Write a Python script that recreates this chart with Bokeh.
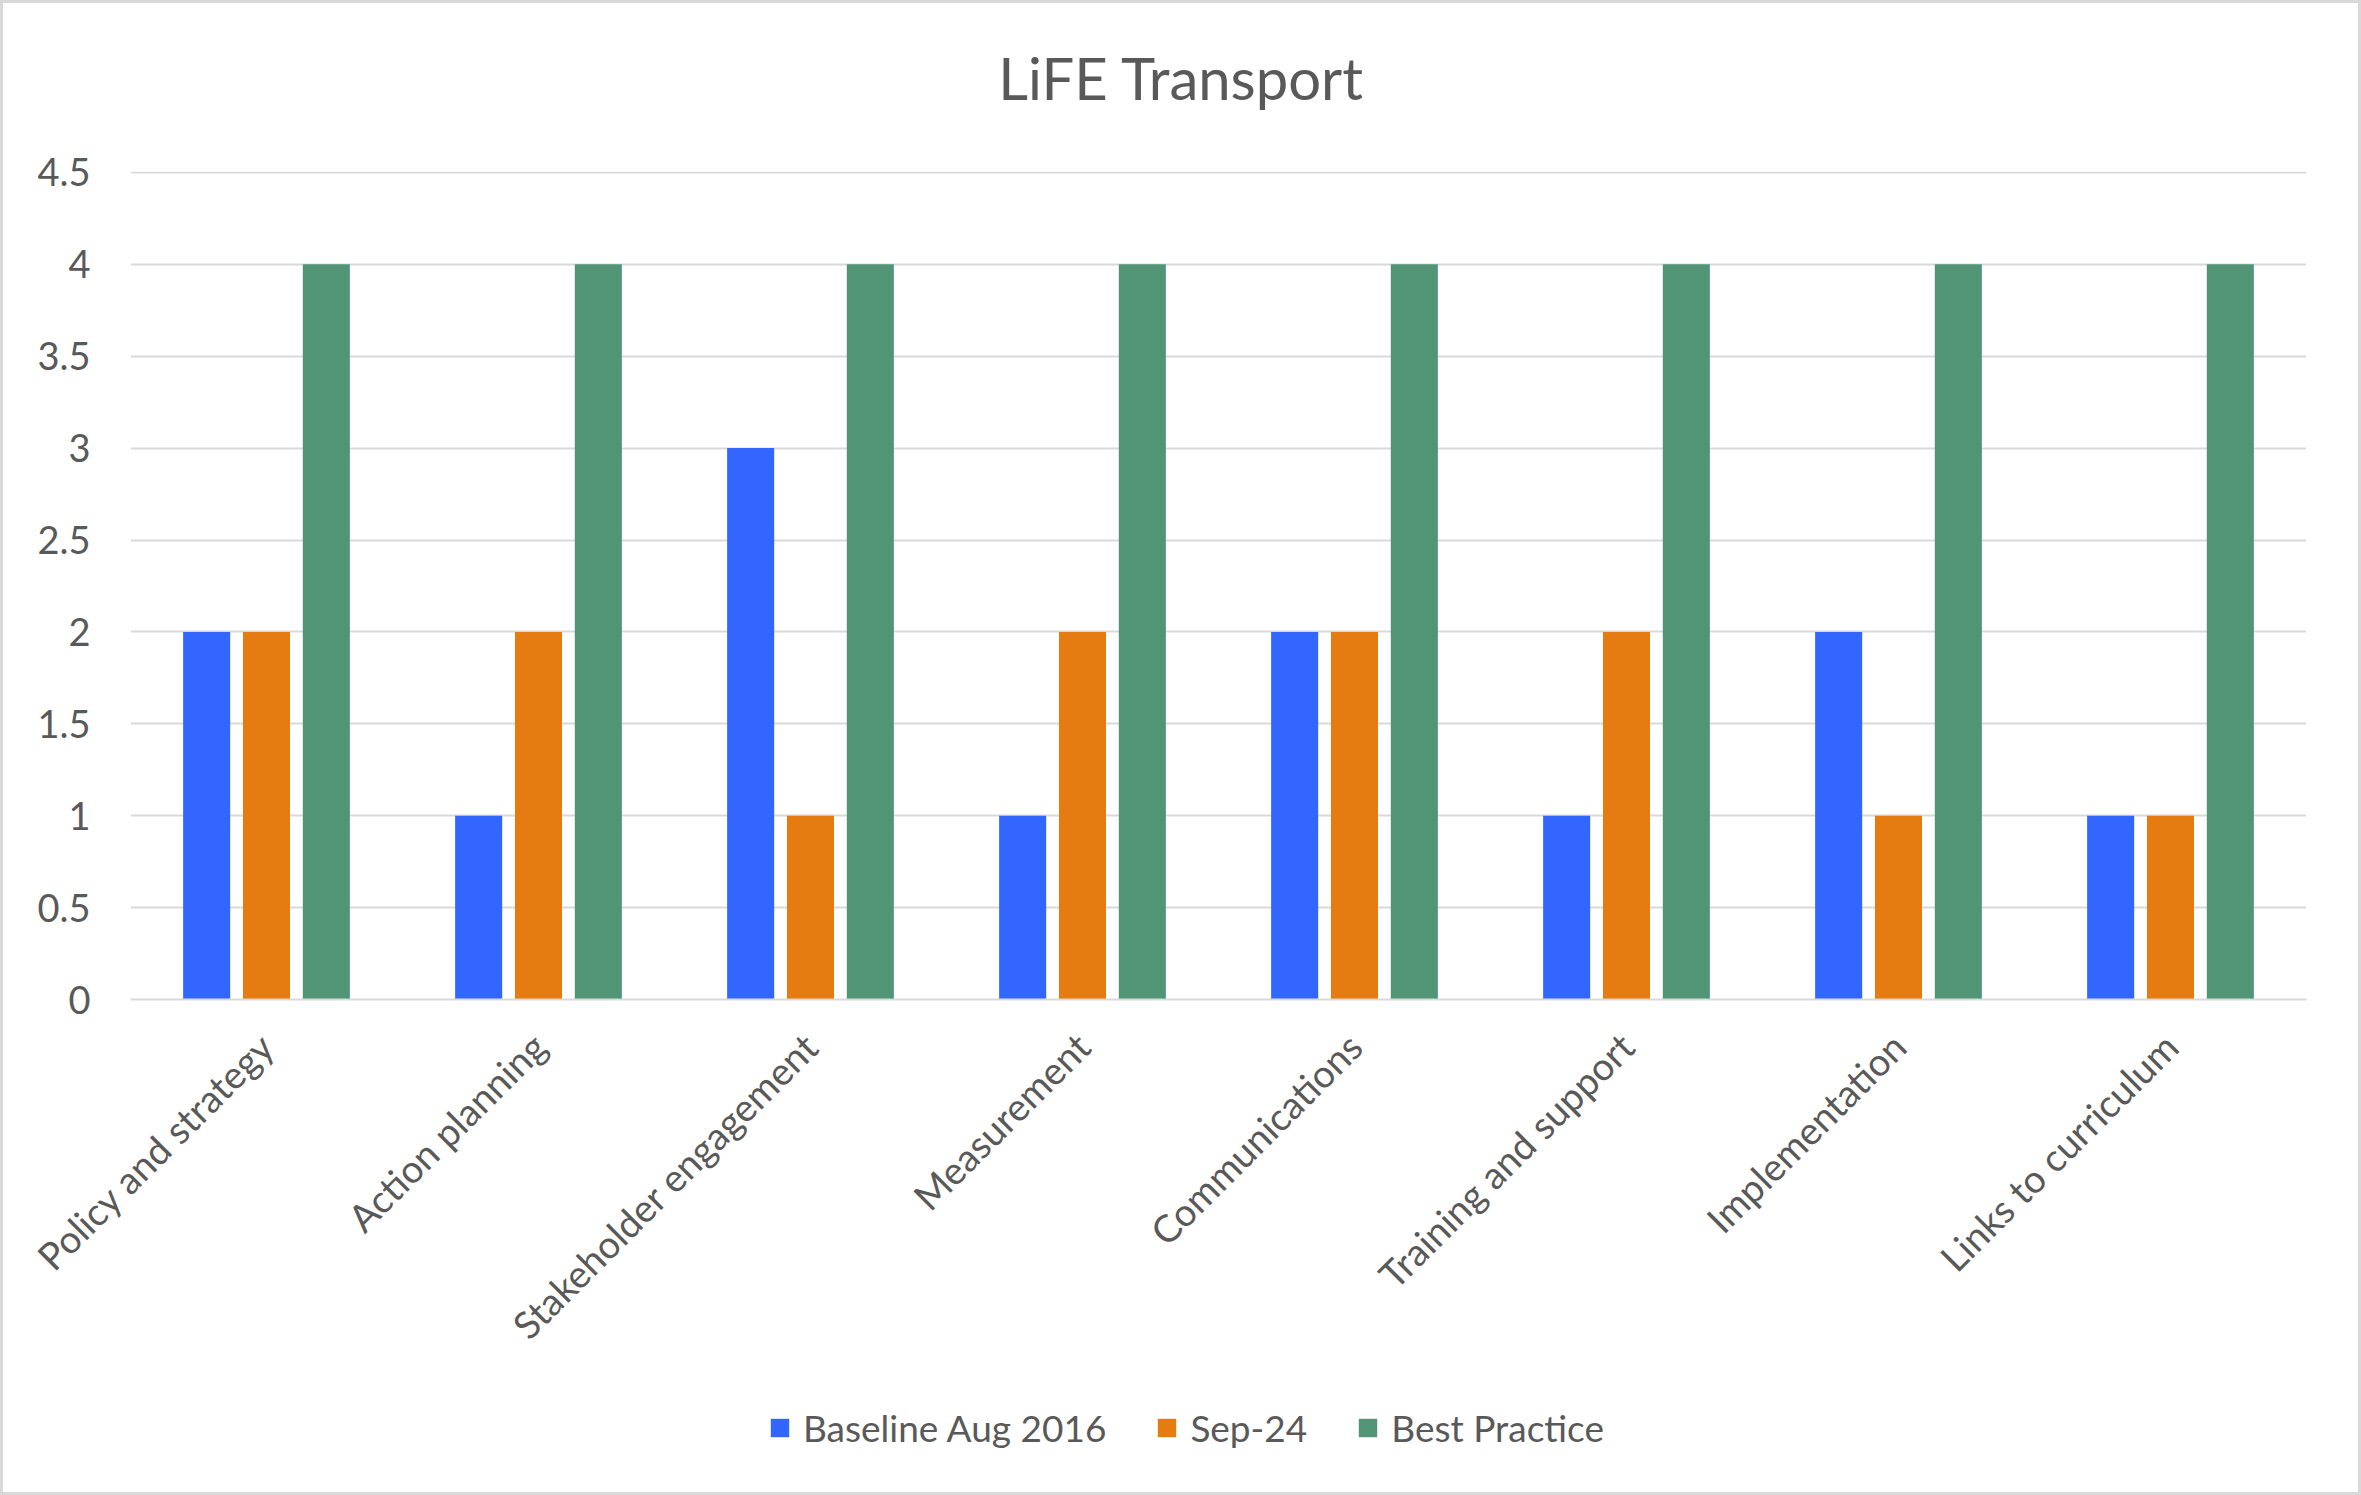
import math
from bokeh.plotting import figure
from bokeh.models import ColumnDataSource, FactorRange, Legend, LegendItem, FixedTicker, Range1d, Label
from bokeh.transform import dodge
from bokeh.layouts import column
from bokeh.embed import file_html
from bokeh.resources import INLINE

# ---- data ----
categories = ["Policy and strategy", "Action planning", "Stakeholder engagement", "Measurement",
              "Communications", "Training and support", "Implementation", "Links to curriculum"]
baseline_aug_2016 = [2, 1, 3, 1, 2, 1, 2, 1]
sep_24 = [2, 2, 1, 2, 2, 2, 1, 1]
best_practice = [4, 4, 4, 4, 4, 4, 4, 4]
series_names = ["Baseline Aug 2016", "Sep-24", "Best Practice"]
y_ticks = [0, 0.5, 1, 1.5, 2, 2.5, 3, 3.5, 4, 4.5]
y_tick_labels = ["0", "0.5", "1", "1.5", "2", "2.5", "3", "3.5", "4", "4.5"]
title_text = "LiFE Transport"

# ---- style ----
FONT = "Lato"
TXT = "#595959"
GRID = "#d9d9d9"
colors = ["#3366FF", "#E57C11", "#519576"]
LBL = "38px"

source = ColumnDataSource(dict(cat=categories, s0=baseline_aug_2016, s1=sep_24, s2=best_practice))

W = 2355
H0 = 130
H1 = 1250
H2 = 109


def strip(h):
    f = figure(width=W, height=h, output_backend="svg", toolbar_location=None,
               x_range=Range1d(0, 1), y_range=Range1d(0, 1),
               min_border=0, min_border_top=0, min_border_bottom=0,
               x_axis_type=None, y_axis_type=None)
    f.outline_line_color = None
    f.xgrid.visible = False
    f.ygrid.visible = False
    f.title.visible = False
    f.background_fill_color = "white"
    f.border_fill_color = "white"
    return f


# ---- title strip ----
p0 = strip(H0)
p0.add_layout(Label(x=1051, y=0.43, x_units="screen", y_units="data", text=title_text,
                    text_align="center", text_baseline="middle",
                    text_font=FONT, text_font_size="58px", text_color=TXT))

# ---- main chart ----
p = figure(width=W, height=H1, x_range=FactorRange(factors=categories), y_range=Range1d(0, 4.505),
           output_backend="svg", toolbar_location=None,
           min_border_left=127, min_border_right=52, min_border_top=168 - H0, min_border_bottom=384)
p.outline_line_color = None
p.background_fill_color = "white"
p.border_fill_color = "white"

offsets = [-0.22, 0.0, 0.22]
for i, col in enumerate(colors):
    p.vbar(x=dodge("cat", offsets[i], range=p.x_range), top="s%d" % i, width=0.173,
           source=source, fill_color=col, line_color=None)

p.xgrid.grid_line_color = None
p.ygrid.grid_line_color = GRID
p.ygrid.grid_line_width = 2
p.yaxis.ticker = FixedTicker(ticks=y_ticks)
p.yaxis.major_label_overrides = {t: l for t, l in zip(y_ticks, y_tick_labels)}
p.yaxis.axis_line_color = None
p.yaxis.major_tick_line_color = None
p.yaxis.minor_tick_line_color = None
p.yaxis.major_tick_out = 0
p.yaxis.major_tick_in = 0
p.yaxis.major_label_standoff = 40
p.yaxis.major_label_text_font = FONT
p.yaxis.major_label_text_font_size = LBL
p.yaxis.major_label_text_color = TXT

p.xaxis.axis_line_color = GRID
p.xaxis.axis_line_width = 2
p.xaxis.major_tick_line_color = None
p.xaxis.minor_tick_line_color = None
p.xaxis.major_tick_out = 0
p.xaxis.major_tick_in = 0
p.xaxis.major_label_orientation = math.pi / 4
p.xaxis.major_label_standoff = 40
p.xaxis.major_label_text_font = FONT
p.xaxis.major_label_text_font_size = LBL
p.xaxis.major_label_text_color = TXT

# ---- legend strip (its frame is aligned with the main plot's frame by the column) ----
p2 = strip(H2)
items = []
for name, col in zip(series_names, colors):
    # swatch carrier: a zero-height bar, nothing visible in the strip itself
    r = p2.vbar(x=[0.5], top=[0], bottom=[0], width=0.01, fill_color=col, line_color=None)
    items.append(LegendItem(label=name, renderers=[r]))

legend = Legend(items=items, orientation="horizontal", location=(638, 42),
                glyph_width=23, glyph_height=23, label_standoff=12, spacing=49, padding=0, margin=0,
                border_line_color=None, background_fill_alpha=0,
                label_text_font=FONT, label_text_font_size="37px", label_text_color=TXT)
p2.add_layout(legend, "center")

layout = column(p0, p, p2, spacing=0, styles={"border": "3px solid #d9d9d9"})

open("out.html", "w").write(file_html(layout, INLINE))
